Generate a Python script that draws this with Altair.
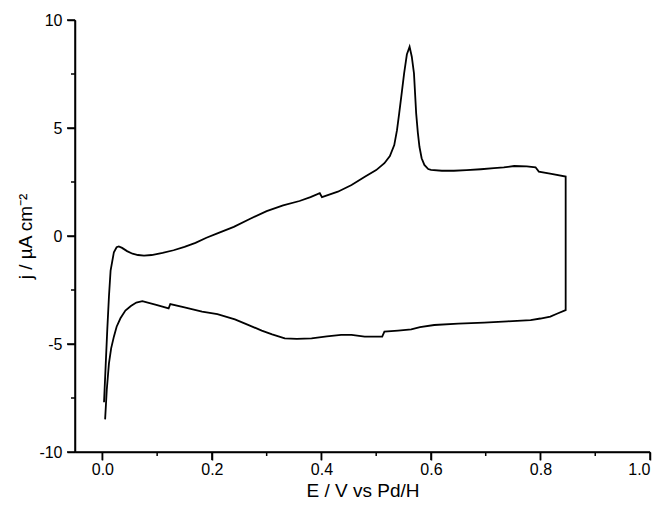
import altair as alt
import pandas as pd

# Anodic (upper) branch, increasing potential
E_up = [0.003, 0.006, 0.009, 0.012, 0.015, 0.021, 0.026, 0.030, 0.036, 0.045,
        0.055, 0.065, 0.076, 0.090, 0.110, 0.130, 0.150, 0.170, 0.190, 0.210,
        0.240, 0.270, 0.300, 0.330, 0.360, 0.380, 0.397, 0.401, 0.430, 0.455,
        0.480, 0.500, 0.515, 0.525, 0.533, 0.538, 0.542, 0.547, 0.551, 0.556,
        0.561, 0.565, 0.569, 0.573, 0.576, 0.579, 0.583, 0.588, 0.595, 0.600,
        0.620, 0.642, 0.665, 0.691, 0.715, 0.733, 0.752, 0.775, 0.791, 0.797,
        0.820, 0.846]
j_up = [-7.70, -6.00, -4.30, -2.80, -1.60, -0.75, -0.52, -0.48, -0.55, -0.70,
        -0.82, -0.88, -0.91, -0.88, -0.78, -0.66, -0.50, -0.32, -0.08, 0.12,
        0.42, 0.80, 1.15, 1.42, 1.62, 1.80, 1.98, 1.80, 2.05, 2.36,
        2.75, 3.05, 3.37, 3.70, 4.21, 4.90, 5.68, 6.70, 7.53, 8.40,
        8.76, 8.30, 7.53, 5.68, 4.80, 4.13, 3.60, 3.29, 3.10, 3.06,
        3.02, 3.02, 3.05, 3.09, 3.14, 3.18, 3.24, 3.22, 3.18, 2.98,
        2.88, 2.75]

# Cathodic (lower) branch, decreasing potential
E_down = [0.846, 0.830, 0.818, 0.800, 0.782, 0.740, 0.697, 0.650, 0.606, 0.580,
          0.564, 0.540, 0.515, 0.511, 0.490, 0.479, 0.455, 0.436, 0.410, 0.382,
          0.355, 0.333, 0.310, 0.291, 0.265, 0.242, 0.210, 0.182, 0.150, 0.124,
          0.121, 0.100, 0.073, 0.062, 0.052, 0.042, 0.033, 0.026, 0.021, 0.016,
          0.012, 0.008, 0.005]
j_down = [-3.43, -3.60, -3.73, -3.82, -3.89, -3.95, -4.01, -4.06, -4.12, -4.22,
          -4.32, -4.38, -4.43, -4.66, -4.66, -4.66, -4.58, -4.58, -4.65, -4.74,
          -4.76, -4.74, -4.55, -4.38, -4.10, -3.86, -3.62, -3.50, -3.30, -3.15,
          -3.35, -3.20, -3.02, -3.08, -3.24, -3.45, -3.81, -4.20, -4.66, -5.20,
          -5.90, -7.13, -8.49]

x_major = [0.0, 0.2, 0.4, 0.6, 0.8, 1.0]
x_minor = [0.1, 0.3, 0.5, 0.7, 0.9]
y_major = [-10, -5, 0, 5, 10]
y_minor = [-7.5, -2.5, 2.5, 7.5]
x_range = [-0.05, 1.0]
y_range = [-10, 10]

E = E_up + E_down
j = j_up + j_down
df = pd.DataFrame({"E": E, "j": j, "i": list(range(len(E)))})

FONT = "Liberation Sans"
W, H = 575, 432

style = dict(
    grid=False, zindex=1,
    domainColor="black", domainWidth=1.5,
    tickColor="black", tickWidth=1.5,
    labelColor="black", titleColor="black",
    labelFont=FONT, titleFont=FONT,
    labelFontSize=16, titleFontSize=19, titleFontWeight="normal",
)

xscale = alt.Scale(domain=x_range, nice=False, zero=False)
yscale = alt.Scale(domain=y_range, nice=False, zero=False)

main = alt.Chart(df).mark_line(color="black", strokeWidth=1.8).encode(
    x=alt.X("E:Q", scale=xscale,
            axis=alt.Axis(title="E / V vs Pd/H", orient="bottom", values=x_major,
                          format=".1f", tickSize=8, labelPadding=1, titlePadding=4,
                          **style)),
    y=alt.Y("j:Q", scale=yscale,
            axis=alt.Axis(title="j / µA cm⁻²", orient="left", values=y_major,
                          labelExpr="'' + datum.value", tickSize=8,
                          labelPadding=5, titlePadding=3, **style)),
    order="i:Q",
)

# axis lines
frame = pd.DataFrame({"x0": [x_range[0]], "x1": [x_range[1]],
                      "y0": [y_range[0]], "y1": [y_range[1]]})
left_line = alt.Chart(frame).mark_rule(color="black", strokeWidth=1.5).encode(
    x=alt.X("x0:Q", scale=xscale, axis=None),
    y=alt.Y("y0:Q", scale=yscale, axis=None),
    y2="y1:Q")
bottom_line = alt.Chart(frame).mark_rule(color="black", strokeWidth=1.5).encode(
    x=alt.X("x0:Q", scale=xscale, axis=None),
    x2="x1:Q",
    y=alt.Y("y0:Q", scale=yscale, axis=None))

# tick marks (major and minor), outward
def xticks(vals, length):
    return alt.Chart(pd.DataFrame({"t": vals})).mark_rule(
        color="black", strokeWidth=1.5).encode(
        x=alt.X("t:Q", scale=xscale, axis=None),
        y=alt.value(H), y2=alt.value(H + length))

def yticks(vals, length):
    return alt.Chart(pd.DataFrame({"t": vals})).mark_rule(
        color="black", strokeWidth=1.5).encode(
        y=alt.Y("t:Q", scale=yscale, axis=None),
        x=alt.value(0), x2=alt.value(-length))

chart = alt.layer(
    main, left_line, bottom_line,
    xticks(x_major, 8), xticks(x_minor, 4),
    yticks(y_major, 8), yticks(y_minor, 4),
).resolve_axis(
    x="independent", y="independent"
).properties(
    width=W,
    height=H,
    autosize=alt.AutoSizeParams(type="none"),
    padding={"left": 67, "top": 12, "right": 4, "bottom": 48},
).configure_view(
    stroke=None
)

chart.save("out.html", embed_options={"renderer": "svg", "actions": False})
